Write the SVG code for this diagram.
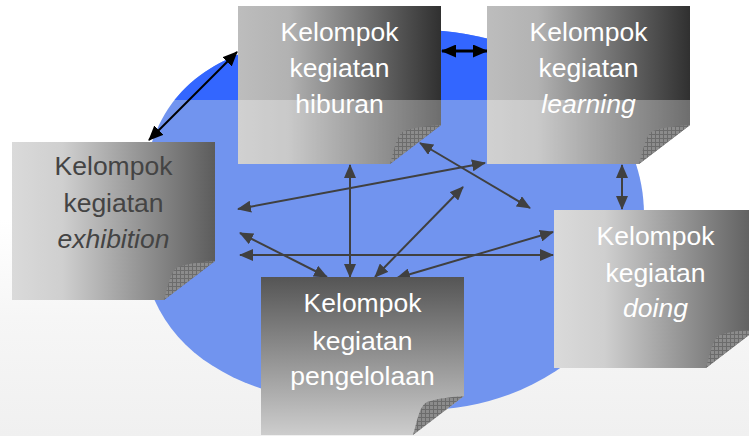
<svg xmlns="http://www.w3.org/2000/svg" width="749" height="436" viewBox="0 0 749 436">
<style>
.t{font-family:"Liberation Sans",Arial,sans-serif;font-size:26.5px;text-anchor:middle}
.w{fill:#ffffff}
.d{fill:#444444}
.i{font-style:italic}
.c{fill:none;stroke:#404040;stroke-width:2;marker-start:url(#ah);marker-end:url(#ah)}
.k{fill:none;stroke:#000;stroke-width:2;marker-start:url(#ak);marker-end:url(#ak)}
</style>
<defs>
<marker id="ah" viewBox="0 0 14 12" refX="13" refY="6" markerWidth="14" markerHeight="12" markerUnits="userSpaceOnUse" orient="auto-start-reverse"><path d="M0,0 L14,6 L0,12 Z" fill="#404040"/></marker>
<marker id="ak" viewBox="0 0 15 13" refX="14" refY="6.5" markerWidth="15" markerHeight="13" markerUnits="userSpaceOnUse" orient="auto-start-reverse"><path d="M0,0 L15,6.5 L0,13 Z" fill="#000"/></marker>
<linearGradient id="gTop" x1="0" y1="0" x2="1" y2="0"><stop offset="0" stop-color="#bdbdbd"/><stop offset="0.25" stop-color="#b2b2b2"/><stop offset="1" stop-color="#303030"/></linearGradient>
<linearGradient id="gSide" x1="0" y1="0" x2="1" y2="0"><stop offset="0" stop-color="#dadada"/><stop offset="0.25" stop-color="#cfcfcf"/><stop offset="1" stop-color="#5c5c5c"/></linearGradient>
<linearGradient id="gVert" x1="0" y1="0" x2="0" y2="1"><stop offset="0" stop-color="#555555"/><stop offset="1" stop-color="#cdcdcd"/></linearGradient>
<linearGradient id="gBg" x1="0" y1="0" x2="0" y2="1"><stop offset="0" stop-color="#ffffff"/><stop offset="0.45" stop-color="#f6f6f6"/><stop offset="1" stop-color="#f0f0f0"/></linearGradient>
<pattern id="hatch" width="4" height="4" patternUnits="userSpaceOnUse"><rect width="4" height="4" fill="#8c8c8c"/><path d="M0,0.5 H4 M0.5,0 V4" stroke="#6c6c6c" stroke-width="1"/></pattern>
<path id="box" d="M0,0 H203 V119 L152,158 H0 Z"/>
<path id="curl" d="M203,119 L152,158 C156,146 158,129 166,125 C178,121 191,120 203,119 Z"/>
<clipPath id="boxClip"><use href="#box"/></clipPath>
<clipPath id="topClip"><rect x="0" y="0" width="749" height="100"/></clipPath>
</defs>
<rect width="749" height="436" fill="#ffffff"/>
<rect x="0" y="220" width="749" height="216" fill="url(#gBg)"/>
<g id="backdrop">
<path d="M420,30 C530,30 644,100 644,215 C644,320 550,410 420,410 C250,410 140,360 140,225 C140,70 230,30 420,30 Z" fill="#7194ef"/>
<path clip-path="url(#topClip)" d="M420,30 C530,30 644,100 644,215 C644,320 550,410 420,410 C250,410 140,360 140,225 C140,70 230,30 420,30 Z" fill="#3366ff"/>
</g>
<g id="connectors">
<line class="k" x1="149" y1="140" x2="237" y2="52"/>
<line class="k" x1="442" y1="51" x2="487" y2="51" style="stroke-width:3"/>
<line class="c" x1="622" y1="165" x2="622" y2="209"/>
<line class="c" x1="420" y1="143" x2="530" y2="208"/>
<line class="c" x1="485" y1="163" x2="238" y2="209"/>
<line class="c" x1="350" y1="165" x2="350" y2="277"/>
<line class="c" x1="240" y1="233" x2="327" y2="277"/>
<line class="c" x1="240" y1="255" x2="553" y2="255"/>
<line class="c" x1="375" y1="277" x2="463" y2="187"/>
<line class="c" x1="397" y1="278" x2="553" y2="232"/>
</g>
<g id="hiburan" transform="translate(238,6)">
<use href="#box" fill="url(#gTop)"/>
<rect x="0" y="94" width="203" height="64" fill="#fff" opacity="0.3" clip-path="url(#boxClip)"/>
<use href="#curl" fill="url(#hatch)"/>
<text class="t w" x="101.5" y="35">Kelompok</text>
<text class="t w" x="101.5" y="71">kegiatan</text>
<text class="t w" x="101.5" y="107">hiburan</text>
</g>
<g id="learning" transform="translate(487,6)">
<use href="#box" fill="url(#gTop)"/>
<rect x="0" y="94" width="203" height="64" fill="#fff" opacity="0.3" clip-path="url(#boxClip)"/>
<use href="#curl" fill="url(#hatch)"/>
<text class="t w" x="101.5" y="35">Kelompok</text>
<text class="t w" x="101.5" y="71">kegiatan</text>
<text class="t w i" x="101.5" y="107">learning</text>
</g>
<g id="exhibition" transform="translate(12,142)">
<use href="#box" fill="url(#gSide)"/>
<use href="#curl" fill="url(#hatch)"/>
<text class="t d" x="101.5" y="33">Kelompok</text>
<text class="t d" x="101.5" y="70">kegiatan</text>
<text class="t d i" x="101.5" y="106">exhibition</text>
</g>
<g id="pengelolaan" transform="translate(261,277)">
<use href="#box" fill="url(#gVert)"/>
<use href="#curl" fill="url(#hatch)"/>
<text class="t w" x="101.5" y="35">Kelompok</text>
<text class="t w" x="101.5" y="73">kegiatan</text>
<text class="t w" x="101.5" y="108">pengelolaan</text>
</g>
<g id="doing" transform="translate(554,210)">
<use href="#box" fill="url(#gSide)"/>
<use href="#curl" fill="url(#hatch)"/>
<text class="t w" x="101.5" y="35">Kelompok</text>
<text class="t w" x="101.5" y="72">kegiatan</text>
<text class="t w i" x="101.5" y="107">doing</text>
</g>
</svg>
